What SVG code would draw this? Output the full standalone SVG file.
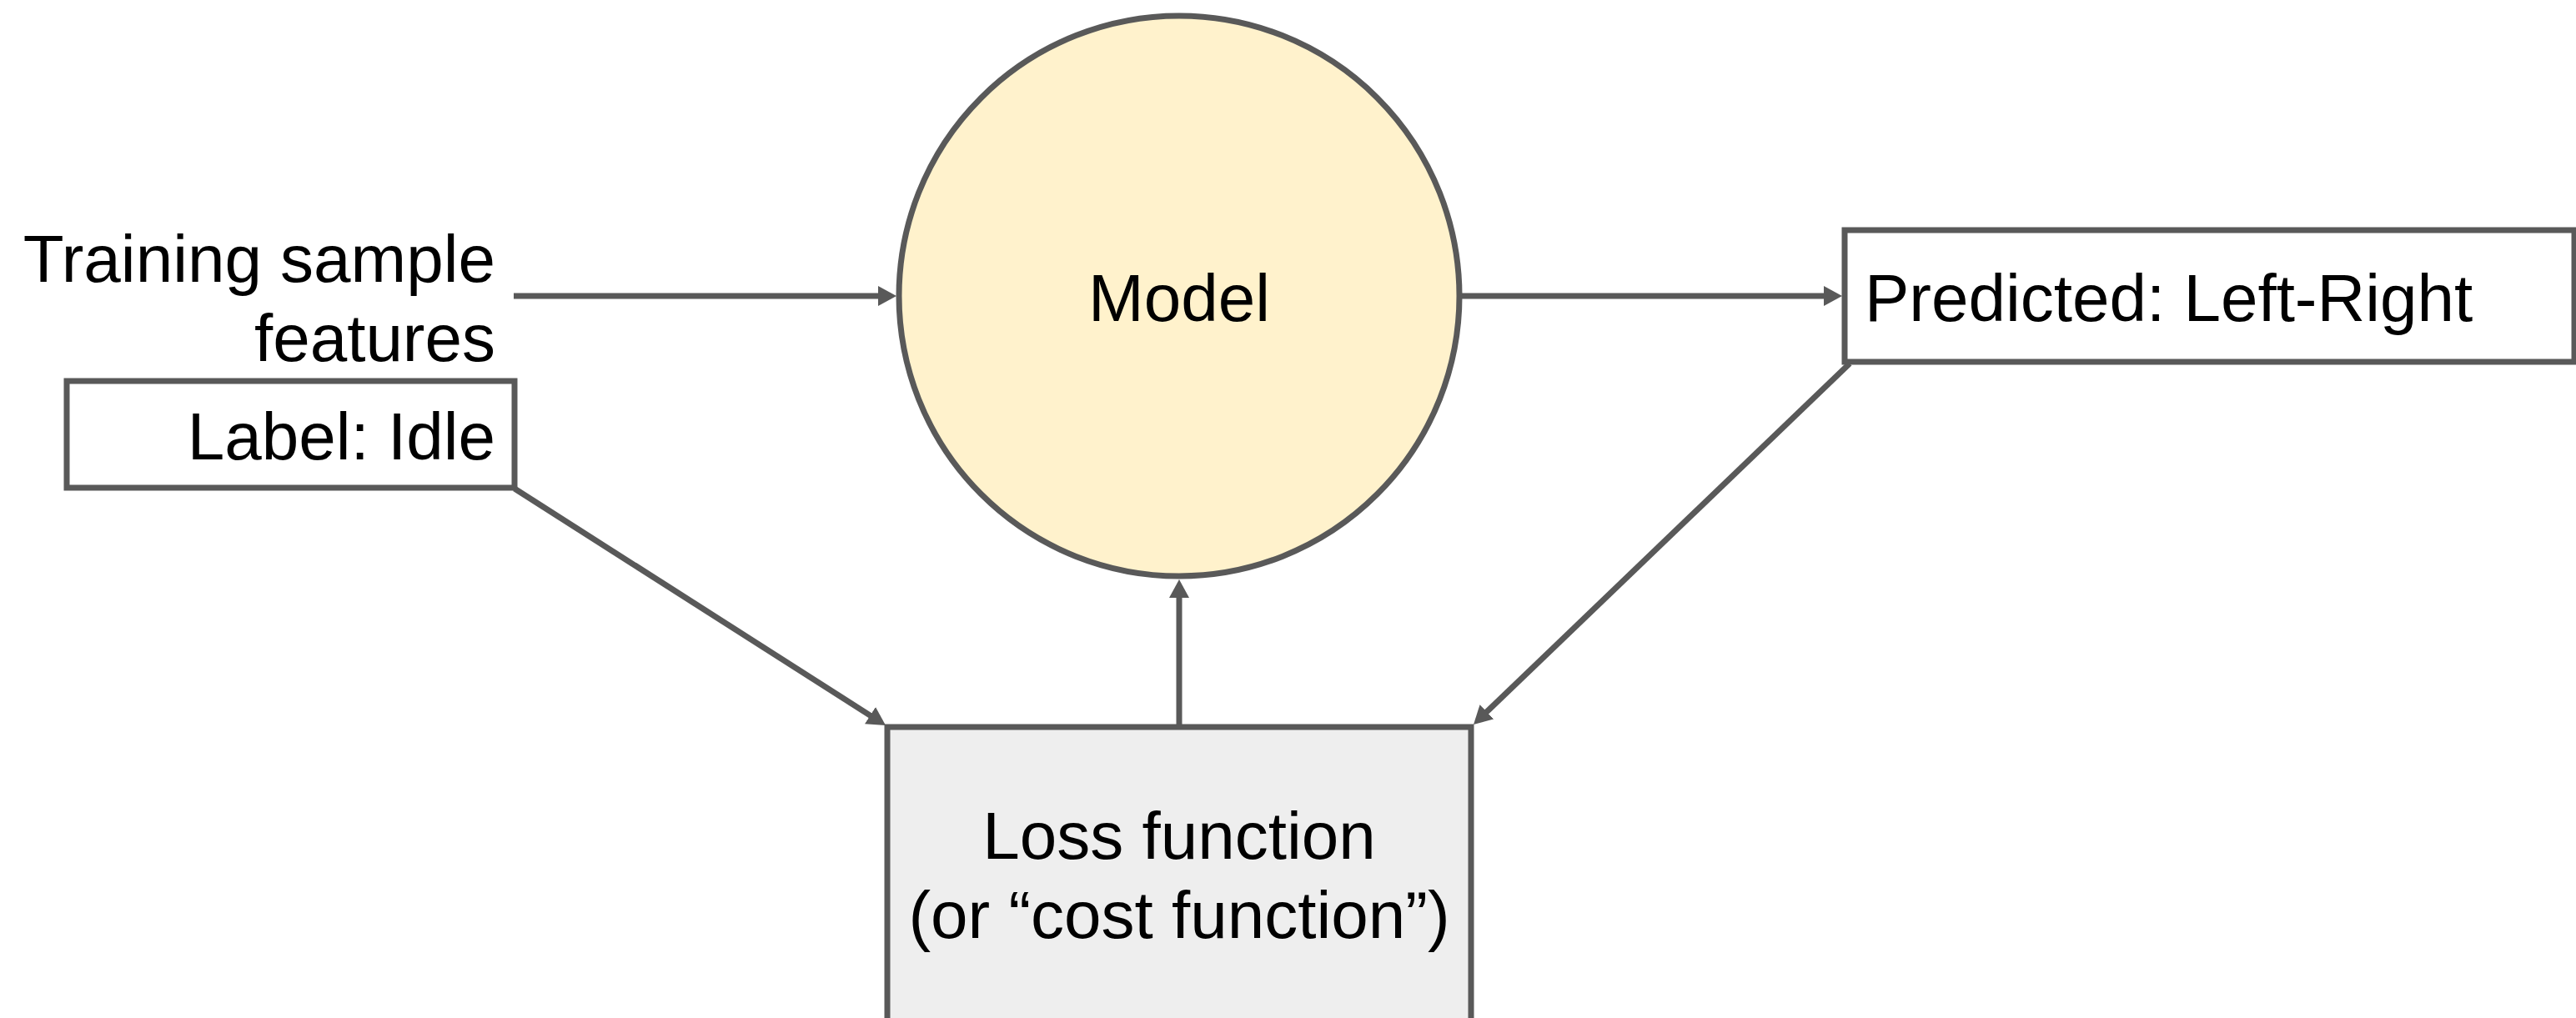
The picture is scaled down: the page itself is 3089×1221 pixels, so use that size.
<svg xmlns="http://www.w3.org/2000/svg" width="3089" height="1221" viewBox="0 0 3089 1221">
  <style>
    .t { font-family: "Liberation Sans", Arial, sans-serif; font-size: 80px; fill: #000000; }
    .shape { stroke: #595959; stroke-width: 7; }
    .conn { stroke: #595959; stroke-width: 7; fill: none; marker-end: url(#arrow); }
  </style>
  <defs>
    <marker id="arrow" markerUnits="userSpaceOnUse" markerWidth="22" markerHeight="24" viewBox="0 0 22 24" refX="12" refY="12" orient="auto">
      <path d="M0,0 L22,12 L0,24 z" fill="#595959"/>
    </marker>
  </defs>
  <rect width="3089" height="1221" fill="#ffffff"/>

  <g id="training-features">
    <text class="t" x="594" y="338" text-anchor="end">Training sample</text>
    <text class="t" x="594" y="433" text-anchor="end">features</text>
  </g>

  <g id="label-idle">
    <rect class="shape" x="80" y="457" width="537" height="128" fill="#ffffff"/>
    <text class="t" x="594" y="551" text-anchor="end">Label: Idle</text>
  </g>

  <g id="model">
    <circle class="shape" cx="1414" cy="355" r="336" fill="#fff2cc"/>
    <text class="t" x="1414" y="385" text-anchor="middle">Model</text>
  </g>

  <g id="predicted">
    <rect class="shape" x="2212" y="276" width="875" height="158" fill="#ffffff"/>
    <text class="t" x="2236" y="385">Predicted: Left-Right</text>
  </g>

  <g id="loss-function">
    <rect class="shape" x="1064" y="872" width="700" height="360" fill="#eeeeee"/>
    <text class="t" x="1414" y="1030" text-anchor="middle">Loss function</text>
    <text class="t" x="1414" y="1125" text-anchor="middle">(or “cost function”)</text>
  </g>

  <g id="connectors">
    <path class="conn" d="M616,355 L1065,355"/>
    <path class="conn" d="M1752,355 L2199,355"/>
    <path class="conn" d="M1414,872 L1414,705"/>
    <path class="conn" d="M617,586 L1053.6,864.6"/>
    <path class="conn" d="M2218,436 L1774.2,862.1"/>
  </g>
</svg>
